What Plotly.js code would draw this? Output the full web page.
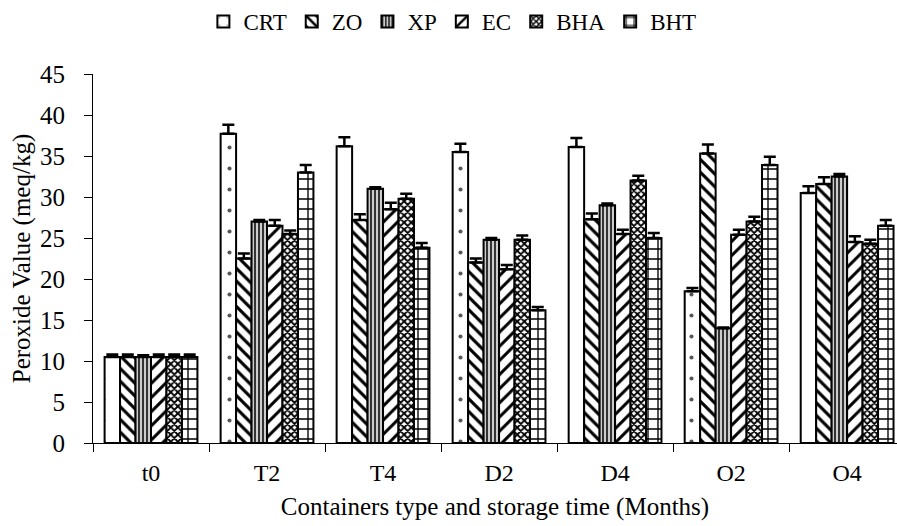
<!DOCTYPE html>
<html>
<head>
<meta charset="utf-8">
<script src="https://cdn.plot.ly/plotly-3.0.1.min.js"></script>
<style>html,body{margin:0;padding:0;background:#fff;}#chart{width:897px;height:526px;}</style>
</head>
<body>
<div id="chart"></div>
<script>
const categories = ["t0", "T2", "T4", "D2", "D4", "O2", "O4"];
const seriesNames = ["CRT", "ZO", "XP", "EC", "BHA", "BHT"];

const CRT = [10.5, 37.7, 36.2, 35.5, 36.1, 18.5, 30.5];
const ZO  = [10.5, 22.5, 27.2, 22.0, 27.3, 35.3, 31.6];
const XP  = [10.5, 27.0, 31.0, 24.8, 29.0, 14.0, 32.5];
const EC  = [10.5, 26.5, 28.5, 21.2, 25.5, 25.4, 24.5];
const BHA = [10.5, 25.5, 29.8, 24.8, 32.0, 27.0, 24.3];
const BHT = [10.5, 33.0, 23.8, 16.2, 25.0, 33.9, 26.5];

const CRT_err = [0.3, 1.1, 1.1, 1.0, 1.1, 0.4, 0.8];
const ZO_err  = [0.3, 0.6, 0.7, 0.5, 0.7, 1.1, 0.8];
const XP_err  = [0.2, 0.2, 0.2, 0.2, 0.2, 0.1, 0.3];
const EC_err  = [0.3, 0.7, 0.8, 0.5, 0.5, 0.6, 0.7];
const BHA_err = [0.3, 0.4, 0.6, 0.5, 0.6, 0.6, 0.5];
const BHT_err = [0.3, 0.9, 0.6, 0.4, 0.6, 1.0, 0.7];

const values = [CRT, ZO, XP, EC, BHA, BHT];
const errors = [CRT_err, ZO_err, XP_err, EC_err, BHA_err, BHT_err];

const patterns = [
  {shape: ".", size: 21, solidity: 0.03, fgcolor: "#555", bgcolor: "#fff"},
  {shape: "\\", size: 9, solidity: 0.35, fgcolor: "#000", bgcolor: "#fff"},
  {shape: "|", size: 4, solidity: 0.5, fgcolor: "#333", bgcolor: "#ccc"},
  {shape: "/", size: 10, solidity: 0.3, fgcolor: "#000", bgcolor: "#fff"},
  {shape: "x", size: 5, solidity: 0.6, fgcolor: "#000", bgcolor: "#fff"},
  {shape: "+", size: 10, solidity: 0.25, fgcolor: "#000", bgcolor: "#fff"}
];

const zero = categories.map(() => 0);
const traces = seriesNames.map((name, i) => ({
  type: "bar",
  name: name,
  x: categories,
  y: values[i],
  marker: {
    color: "#fff",
    line: {color: "#000", width: 2},
    pattern: patterns[i]
  },
  error_y: {
    type: "data",
    symmetric: false,
    array: errors[i],
    arrayminus: zero,
    color: "#000",
    thickness: 2.5,
    width: 6
  }
}));

const FAM = "Liberation Serif, Times New Roman, serif";

const layout = {
  width: 897,
  height: 526,
  margin: {l: 93, r: 0, t: 73, b: 83},
  paper_bgcolor: "#fff",
  plot_bgcolor: "#fff",
  font: {family: FAM, color: "#000", size: 24},
  barmode: "group",
  bargap: 0.2,
  bargroupgap: 0,
  showlegend: true,
  legend: {
    orientation: "h",
    x: 0.447, xanchor: "center",
    y: 1.143, yanchor: "middle",
    font: {family: FAM, size: 23, color: "#000"},
    itemwidth: 30,
    tracegroupgap: 0
  },
  xaxis: {
    type: "category",
    range: [-0.5, 6.43],
    showline: true, linecolor: "#000", linewidth: 1,
    ticks: "outside", tickson: "boundaries", ticklen: 8, tickcolor: "#000",
    ticklabelstandoff: 8,
    showgrid: false, zeroline: false,
    tickfont: {family: FAM, size: 24, color: "#000"},
    title: {text: "Containers type and storage time (Months)", font: {family: FAM, size: 25, color: "#000"}, standoff: 12}
  },
  yaxis: {
    range: [0, 45],
    dtick: 5,
    showline: true, linecolor: "#000", linewidth: 1,
    ticks: "outside", ticklen: 8, tickcolor: "#000",
    ticklabelstandoff: 14,
    showgrid: false, zeroline: false,
    tickfont: {family: FAM, size: 25, color: "#000"},
    title: {text: "Peroxide Value (meq/kg)", font: {family: FAM, size: 25, color: "#000"}, standoff: 2}
  }
};

Plotly.newPlot("chart", traces, layout, {displayModeBar: false, staticPlot: true});
</script>
</body>
</html>
